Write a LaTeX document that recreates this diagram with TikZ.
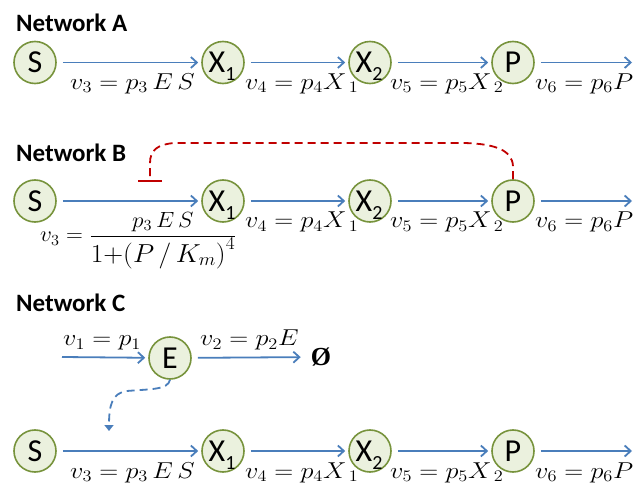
\RequirePackage{fix-cm}
\documentclass[tikz,border=0pt]{standalone}
\usepackage{fontspec}
\newfontfamily\calibri{Carlito}
\newfontfamily\timesf{Liberation Serif}
\usetikzlibrary{arrows.meta}
\definecolor{flowblue}{HTML}{4A7EBB}
\definecolor{inhred}{HTML}{C00000}
\definecolor{nodefill}{HTML}{EBF1DE}
\definecolor{nodeline}{HTML}{77933C}
% species label with a lowered index that sticks out of the circle
\newcommand{\spc}[2]{\kern-12pt #1\rlap{\raisebox{-8pt}{\fontsize{20}{20}\selectfont #2}}}
% rate law, set a little wider than plain math
\newcommand{\rt}[2][1.14]{\scalebox{#1}[1]{$#2$}}
\begin{document}
\begin{tikzpicture}[x=1pt,y=-1pt,
  species/.style={circle, draw=nodeline, fill=nodefill, line width=1.6pt,
    minimum size=42pt, inner sep=0pt,
    font=\calibri\fontsize{32}{32}\selectfont, text height=20.6pt, text depth=0pt},
  flow/.style={draw=flowblue, line width=1.8pt,
    -{Straight Barb[length=6pt,width=11pt]}, shorten <=6pt, shorten >=3pt},
  rate/.style={anchor=base west, inner sep=0pt, font=\fontsize{23}{27}\selectfont},
  title/.style={anchor=base west, inner sep=0pt,
    font=\calibri\bfseries\fontsize{25}{30}\selectfont},
  inhib/.style={draw=inhred, line width=1.8pt, dash pattern=on 8pt off 5pt,
    -{Bar[width=24pt]}},
  regul/.style={draw=flowblue, line width=1.8pt, dash pattern=on 8pt off 5pt,
    -{Triangle[length=6pt,width=9pt]}}]
\useasboundingbox (0,0) rectangle (633,484);

% section titles
\node[title] (tA) at (16,32) {Network A};
\node[title] (tB) at (16,162) {Network B};
\node[title] (tC) at (16,312) {Network C};

% the linear pathway S -> X1 -> X2 -> P, drawn once per network
\foreach \r/\y in {A/62.5, B/201, C/451}{
  \node[species] (S\r)  at (35,\y)  {S};
  \node[species] (X1\r) at (223,\y) {\spc{X}{1}};
  \node[species] (X2\r) at (370,\y) {\spc{X}{2}};
  \node[species] (P\r)  at (513,\y) {P};
  \coordinate (out\r) at (633,\y);
  \draw[flow] (S\r) -- (X1\r);
  \draw[flow] (X1\r) -- (X2\r);
  \draw[flow] (X2\r) -- (P\r);
  \draw[flow, shorten >=1pt] (P\r) -- (out\r);
  \node[rate] (v4\r) at (245,\y+27) {\rt{v_4 = p_4X_{\kern4pt 1}}};
  \node[rate] (v5\r) at (390,\y+27) {\rt{v_5 = p_5X_{\kern4pt 2}}};
  \node[rate] (v6\r) at (535,\y+27) {\rt{v_6 = p_6P}};
}
\node[rate] (v3A) at (70,89.5) {\rt{v_3 = p_3\,E\,S}};
\node[rate] (v3C) at (70,478) {\rt{v_3 = p_3\,E\,S}};

% Network B: product inhibition of the first step
\node[rate, font=\fontsize{22}{26}\selectfont] (v3B) at (40,242)
  {\rt[1.06]{v_3 = \displaystyle\frac{p_3\,E\,S}{\mbox{\fontsize{26}{30}\selectfont$1{+}\bigl(P\,/\,K_m\bigr)^4$}}}};
\coordinate (inh) at (150,182);
\draw[inhib] (PB.north) -- (513,166) .. controls (512,150) and (495,144) .. (465,143)
  -- (175,143) .. controls (158,144) and (150,150) .. (150,163) -- (inh);

% Network C: enzyme synthesis and decay
\node[species] (E) at (170,358) {E};
\coordinate (src) at (62,357);
\node[inner sep=0pt, font=\timesf\bfseries\fontsize{26}{26}\selectfont] (sink) at (321,357) {Ø};
\draw[flow, shorten <=0pt] (src) -- (E);
\draw[flow, shorten >=10pt] (E) -- (sink);
\node[rate] (v1) at (63,346) {\rt{v_1 = p_1}};
\node[rate] (v2) at (200,346) {\rt{v_2 = p_2E}};
\coordinate (etgt) at (109,431);
\draw[regul] (E.south) .. controls (168,390) and (150,389) .. (127,391)
  .. controls (112,393) and (109,405) .. (etgt);
\end{tikzpicture}
\end{document}
